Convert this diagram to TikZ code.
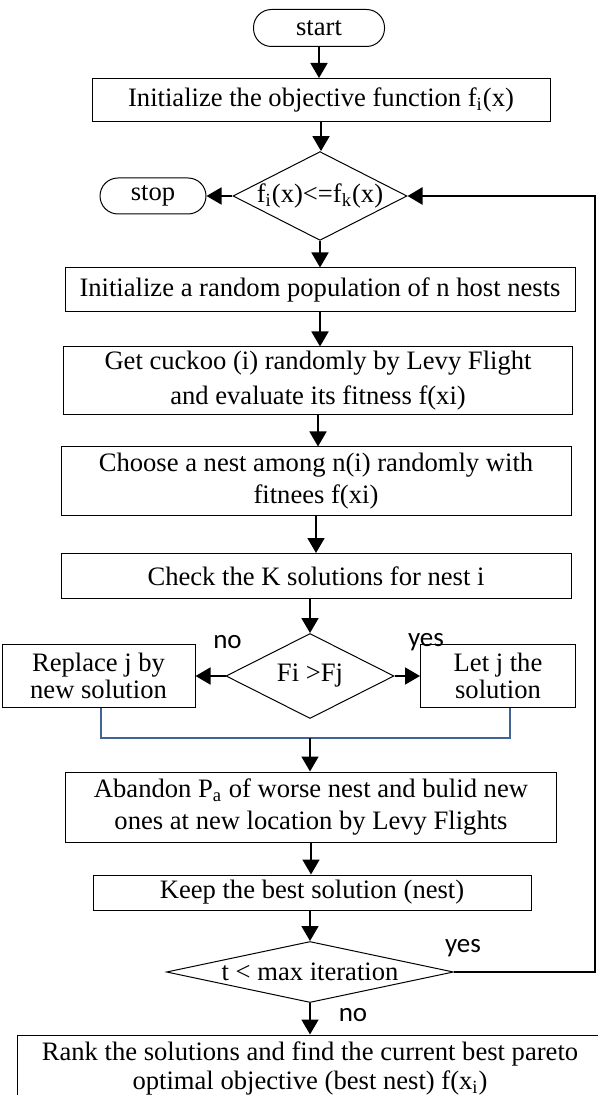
\documentclass[tikz,border=0pt]{standalone}
\usepackage{fontspec}
\setmainfont{Liberation Serif}
\newfontfamily\lblfont{Carlito}
\usetikzlibrary{shapes.geometric,arrows.meta}
\definecolor{mergeblue}{RGB}{65,100,150}
\tikzset{
  proc/.style={draw,line width=0.5pt,align=center,inner sep=0pt,font=\fontsize{13.3}{17.5}\selectfont},
  term/.style={proc,rounded corners=9pt},
  decide/.style={draw,diamond,line width=0.5pt,inner sep=0pt,align=center,font=\fontsize{13.3}{17.5}\selectfont},
  arr/.style={-{Triangle[width=8.5pt,length=7.5pt]},line width=0.9pt},
  backln/.style={arr,line width=1.3pt},
  blueln/.style={mergeblue,line width=1pt},
  lbl/.style={font=\lblfont\fontsize{13.5}{16}\selectfont},
}

\begin{document}
\begin{tikzpicture}[x=0.5pt,y=-0.5pt]
        \useasboundingbox (0,0) rectangle (598,1095);
        \clip (0,0) rectangle (598,1095);
        % main column
        \node[term,minimum width=65.5pt,minimum height=18.5pt] (start) at (319,28) {start};
        \node[proc,minimum width=229pt,minimum height=21.5pt] (init) at (321,100) {Initialize the objective function f\textsubscript{i}(x)};
        \node[decide,minimum width=83.5pt,minimum height=42.5pt,aspect=1.96] (dia1) at (320,196) {f\textsubscript{i}(x)<=f\textsubscript{k}(x)};
        \node[term,minimum width=53pt,minimum height=18pt] (stop) at (153,196) {stop};
        \node[proc,minimum width=255pt,minimum height=22pt] (pop) at (320,290) {Initialize a random population of n host nests};
        \node[proc,minimum width=254.5pt,minimum height=34pt] (cuckoo) at (318,381) {Get cuckoo (i) randomly by Levy Flight\\and evaluate its fitness f(xi)};
        \node[proc,minimum width=255pt,minimum height=34pt,font=\fontsize{13.3}{16}\selectfont] (choose) at (316,481) {Choose a nest among n(i) randomly with\\fitnees f(xi)};
        \node[proc,minimum width=255pt,minimum height=22.5pt] (check) at (316,576) {Check the K solutions for nest i};
        \node[decide,minimum width=84pt,minimum height=42.5pt,aspect=2] (dia2) at (310,676) {Fi >Fj};
        \node[proc,minimum width=96.5pt,minimum height=31.5pt,font=\fontsize{13.3}{13.5}\selectfont] (replace) at (98.5,676) {Replace j by\\new solution};
        \node[proc,minimum width=77.5pt,minimum height=31.5pt,font=\fontsize{13.3}{13.5}\selectfont] (letj) at (498,676) {Let j the\\solution};
        \coordinate (mergel) at (101,738);
        \coordinate (merge) at (310,738);
        \coordinate (merger) at (510,738);
        \node[proc,minimum width=245.5pt,minimum height=35pt,font=\fontsize{13.3}{16}\selectfont] (abandon) at (311,807) {Abandon P\textsubscript{a} of worse nest and bulid new\\ones at new location by Levy Flights};
        \node[proc,minimum width=219pt,minimum height=17.5pt] (keep) at (312,892.5) {Keep the best solution (nest)};
        \node[decide,minimum width=143.5pt,minimum height=30.5pt,aspect=4.7] (dia3) at (310,972) {t < max iteration};
        \node[proc,minimum width=293pt,minimum height=33pt,font=\fontsize{13.3}{14.5}\selectfont] (rank) at (310,1068) {Rank the solutions and find the current best pareto\\optimal objective (best nest) f(x\textsubscript{i})};
        \coordinate (back) at (595,0);
        % labels
        \node[lbl] (noA) at (227.5,642) {no};
        \node[lbl] (yesA) at (426,642) {yes};
        \node[lbl] (yesB) at (463,948) {yes};
        \node[lbl] (noB) at (353,1015) {no};
        % connectors
        \draw[arr] (start) -- (start |- init.north);
        \draw[arr] (init) -- (init |- dia1.north);
        \draw[arr] (dia1.west) -- (stop.east);
        \draw[arr] (dia1.south) -- (dia1.south |- pop.north);
        \draw[arr] (pop) -- (pop |- cuckoo.north);
        \draw[arr] (cuckoo) -- (cuckoo |- choose.north);
        \draw[arr] (choose) -- (choose |- check.north);
        \draw[arr] (dia2.north |- check.south) -- (dia2.north);
        \draw[arr] (dia2.west) -- (replace.east);
        \draw[arr] (dia2.east) -- (letj.west);
        \draw[blueln] (replace.south -| mergel) -- (mergel) -- (merger) -- (letj.south -| merger);
        \draw[arr] (merge) -- (merge |- abandon.north);
        \draw[arr] (abandon) -- (abandon |- keep.north);
        \draw[arr] (dia3.north |- keep.south) -- (dia3.north);
        \draw[arr] (dia3.south) -- (dia3.south |- rank.north);
        \draw[backln] (dia3.east) -- (dia3.east -| back) -- (dia1.east -| back) -- (dia1.east);
\end{tikzpicture}
\end{document}
